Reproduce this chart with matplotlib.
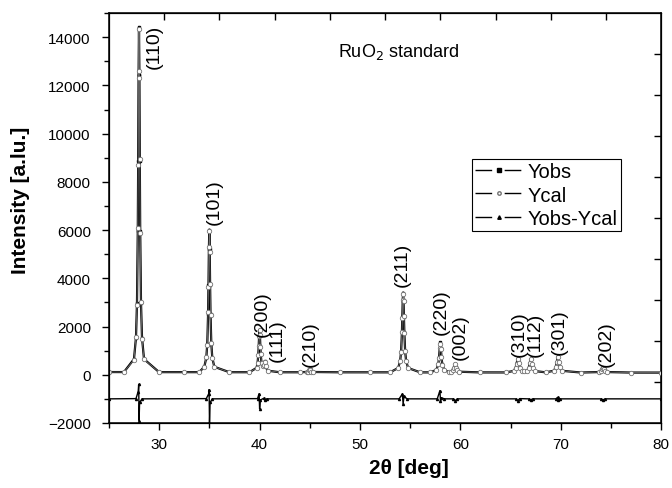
import matplotlib.pyplot as plt
from matplotlib.lines import Line2D
from matplotlib.ticker import MultipleLocator

plt.rcParams['font.family'] = ['Liberation Sans', 'DejaVu Sans']

# pattern: baseline points + points across each reflection
two_theta = [25.0, 26.5,
             27.5, 27.7, 27.8, 27.88, 27.92, 27.96, 28.0, 28.04, 28.08, 28.12, 28.2, 28.3, 28.5,
             30.0, 32.5, 34.0,
             34.5, 34.7, 34.8, 34.88, 34.92, 34.96, 35.0, 35.04, 35.08, 35.12, 35.2, 35.3, 35.5,
             37.0, 39.0,
             39.7, 39.8, 39.88, 39.92, 39.96, 40.0, 40.04, 40.08, 40.12, 40.2, 40.3, 40.4, 40.5, 40.6, 40.8,
             42.0, 44.0,
             44.7, 44.85, 44.95, 45.0, 45.05, 45.15, 45.3,
             48.0, 51.0, 53.0,
             53.8, 54.0, 54.1, 54.18, 54.22, 54.26, 54.3, 54.34, 54.38, 54.42, 54.5, 54.6, 54.8,
             56.0, 57.0,
             57.6, 57.8, 57.88, 57.94, 58.0, 58.06, 58.12, 58.2, 58.4,
             58.9,
             59.1, 59.3, 59.4, 59.5, 59.6, 59.7, 59.9,
             62.0, 64.5,
             65.3, 65.5, 65.6, 65.7, 65.8, 65.9, 66.1,
             66.35,
             66.6, 66.8, 66.9, 67.0, 67.1, 67.2, 67.4,
             68.5,
             69.3, 69.5, 69.6, 69.7, 69.8, 69.9, 70.1,
             72.0,
             73.8, 74.0, 74.1, 74.2, 74.3, 74.4, 74.6,
             77.0, 80.0]

y_obs = [112, 111,
         650, 1540, 2970, 5980, 8850, 12450, 14430, 12450, 8850, 5980, 2970, 1540, 650,
         109, 108, 108,
         330, 700, 1290, 2530, 3710, 5200, 6020, 5200, 3710, 2530, 1290, 700, 330,
         106, 105,
         285, 460, 830, 1180, 1625, 1870, 1630, 1190, 845, 495, 360, 405, 560, 350, 170,
         104, 103,
         115, 130, 185, 225, 185, 130, 115,
         102, 101, 100,
         280, 560, 980, 1755, 2385, 3080, 3410, 3080, 2385, 1755, 980, 560, 280,
         99, 98,
         200, 430, 720, 1090, 1340, 1090, 720, 430, 200,
         98,
         126, 190, 305, 450, 305, 190, 126,
         97, 96,
         157, 283, 470, 665, 470, 283, 157,
         140,
         154, 277, 460, 650, 460, 277, 154,
         100,
         165, 310, 530, 750, 530, 310, 165,
         92,
         112, 156, 222, 290, 222, 156, 112,
         91, 90]

y_cal = [112, 111,
         620, 1580, 2900, 6100, 8700, 12600, 14350, 12300, 8950, 5900, 3000, 1500, 640,
         109, 108, 108,
         320, 720, 1250, 2600, 3650, 5300, 5960, 5100, 3780, 2480, 1310, 690, 330,
         106, 105,
         280, 470, 810, 1210, 1590, 1840, 1650, 1170, 860, 490, 365, 400, 545, 355, 172,
         104, 103,
         114, 128, 180, 218, 182, 128, 114,
         102, 101, 100,
         275, 570, 960, 1790, 2340, 3120, 3370, 3040, 2420, 1720, 995, 550, 282,
         99, 98,
         198, 440, 700, 1120, 1290, 1070, 735, 425, 200,
         98,
         125, 185, 300, 440, 300, 188, 125,
         97, 96,
         155, 290, 455, 650, 480, 280, 156,
         140,
         153, 270, 470, 640, 455, 280, 153,
         100,
         163, 318, 520, 740, 535, 305, 164,
         92,
         111, 152, 218, 283, 220, 155, 111,
         91, 90]

# difference curve (shifted to -1000)
diff_theta = [25.0, 27.7, 27.92, 27.97, 28.01, 28.06, 28.3,
              34.7, 34.93, 34.98, 35.02, 35.08, 35.3,
              39.8, 39.96, 40.01, 40.08, 40.4, 40.55, 40.7,
              53.9, 54.22, 54.3, 54.38, 54.7,
              57.7, 57.96, 58.02, 58.1, 58.4,
              59.3, 59.5, 59.7,
              65.5, 65.7, 65.9,
              66.8, 67.0, 67.2,
              69.5, 69.68, 69.75, 69.9,
              74.0, 74.2, 74.4, 80.0]
y_diff = [-1000, -990, -700, -400, -1900, -1150, -1000,
          -990, -800, -620, -1990, -1150, -1000,
          -990, -790, -1410, -1050, -980, -1060, -1000,
          -1000, -800, -1200, -900, -1000,
          -1000, -660, -1080, -950, -1000,
          -1000, -1070, -1000,
          -1000, -1080, -990,
          -1000, -1040, -1000,
          -1000, -940, -1060, -1000,
          -1000, -1040, -1000, -1000]

peak_labels = ['(110)', '(101)', '(200)', '(111)', '(210)', '(211)', '(220)',
               '(002)', '(310)', '(112)', '(301)', '(202)']
label_x = [29.5, 35.5, 40.3, 41.8, 45.1, 54.2, 58.1, 60.0, 65.9, 67.5, 69.8, 74.5]
label_y = [12740, 6270, 1620, 580, 370, 3690, 1700, 660, 790, 790, 870, 370]

fig, ax = plt.subplots(figsize=(6.72, 4.89), dpi=100)
fig.subplots_adjust(left=0.162, right=0.984, bottom=0.133, top=0.971)

ax.plot(two_theta, y_obs, color='black', lw=1.6, marker='s', ms=2, zorder=2)
ax.plot(two_theta, y_cal, color='0.45', lw=0.6, marker='o', ms=3.2,
        mfc='white', mec='0.45', mew=0.6, zorder=3)
ax.plot(diff_theta, y_diff, color='black', lw=1, marker='^', ms=1.5, zorder=2)

for lab, xx, yy in zip(peak_labels, label_x, label_y):
    ax.text(xx, yy, lab, rotation=90, ha='center', va='bottom', fontsize=14)

ax.text(53.9, 13450, 'RuO$_2$ standard', ha='center', va='center', fontsize=13)

ax.set_xlim(25, 80)
ax.set_ylim(-2000, 15000)
ax.xaxis.set_major_locator(MultipleLocator(10))
ax.xaxis.set_minor_locator(MultipleLocator(5))
ax.set_yticks(range(-2000, 14001, 2000))
ax.yaxis.set_minor_locator(MultipleLocator(1000))
ax.tick_params(which='major', direction='out', length=5, width=1, labelsize=11, pad=5)
ax.tick_params(axis='y', which='major', pad=8)
ax.tick_params(which='minor', direction='out', length=3.5, width=1)
for sp in ax.spines.values():
    sp.set_linewidth(1.1)

# top / right axes carry plain evenly spaced ticks
ax_top = ax.twiny()
ax_top.set_xlim(0, 10)
ax_top.set_xticks(range(1, 10))
ax_top.tick_params(direction='in', length=5, width=1, labeltop=False)
ax_right = ax.twinx()
ax_right.set_ylim(0, 10)
ax_right.set_yticks(range(1, 10))
ax_right.tick_params(direction='in', length=5, width=1, labelright=False)

ax.set_xlabel('2θ [deg]', fontsize=15, fontweight='bold')
ax.xaxis.set_label_coords(0.543, -0.085)
ax.set_ylabel('Intensity [a.lu.]', fontsize=15, fontweight='bold')
ax.yaxis.set_label_coords(-0.143, 0.546)

handles = [
    Line2D([], [], color='black', lw=1, marker='s', ms=2.5, dashes=(12, 9)),
    Line2D([], [], color='black', lw=1, marker='o', ms=2.5, mfc='white', mec='0.45', dashes=(12, 9)),
    Line2D([], [], color='black', lw=1, marker='^', ms=2.5, dashes=(12, 9)),
]
leg = ax.legend(handles, ['Yobs', 'Ycal', 'Yobs-Ycal'], loc='upper left',
                bbox_to_anchor=(0.658, 0.644), borderaxespad=0, fontsize=14.5,
                handlelength=2.3, handletextpad=0.3, labelspacing=0.22,
                borderpad=0.15, fancybox=False, edgecolor='black', framealpha=1)
leg.get_frame().set_linewidth(0.8)

fig.savefig('out.png', dpi=100)
